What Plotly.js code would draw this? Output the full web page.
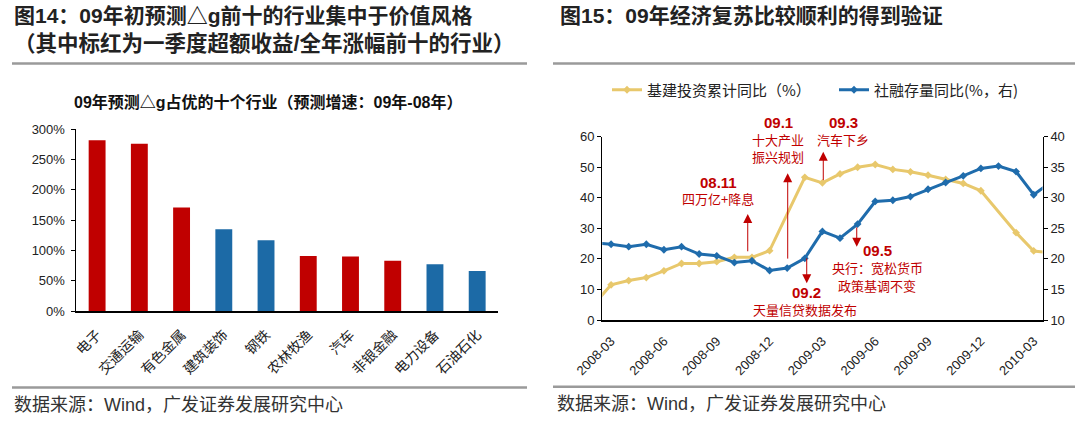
<!DOCTYPE html>
<html><head><meta charset="utf-8">
<script src="https://cdn.plot.ly/plotly-3.0.1.min.js"></script>
<style>html,body{margin:0;padding:0;background:#fff;} #chart{width:1080px;height:422px;}</style>
</head><body><div id="chart"></div>
<script>
// ---------- Data: Fig.14 ----------
const industries = ['电子','交通运输','有色金属','建筑装饰','钢铁','农林牧渔','汽车','非银金融','电力设备','石油石化'];
const predictedGrowth = [282, 276, 171, 135, 117, 91, 90, 83, 77, 66]; // %, 09 vs 08
const redFlag = [true, true, true, false, false, true, true, true, false, false]; // Q1 excess return / full-year top 10
const leftTickVals = [0, 50, 100, 150, 200, 250, 300];
const leftTickText = ['0%', '50%', '100%', '150%', '200%', '250%', '300%'];

// ---------- Data: Fig.15 ----------
const months = ['2008-02','2008-03','2008-04','2008-05','2008-06','2008-07','2008-08','2008-09','2008-10','2008-11','2008-12',
                '2009-01','2009-02','2009-03','2009-04','2009-05','2009-06','2009-07','2009-08','2009-09','2009-10','2009-11','2009-12',
                '2010-01','2010-02','2010-03','2010-04'];
const infraYoY = [5.0, 11.5, 12.9, 13.9, 16.1, 18.5, 18.5, 19.1, 20.5, 20.5, 22.7,
                  null, 46.7, 44.9, 47.8, 50.0, 50.9, 49.3, 48.5, 47.4, 46.0, 44.7, 42.3,
                  null, 28.6, 22.6, 22.0];
const tsfYoY = [22.6, 22.4, 22.0, 22.4, 21.5, 22.0, 20.8, 20.5, 19.4, 19.7, 18.1,
                18.5, 20.1, 24.5, 23.4, 25.7, 29.4, 29.6, 30.2, 31.4, 32.5, 33.6, 34.8,
                35.2, 34.3, 30.5, 32.6];
const xTickMonths = ['2008-03','2008-06','2008-09','2008-12','2009-03','2009-06','2009-09','2009-12','2010-03'];

// ---------- helpers ----------
const W = 1080, H = 422;
const px = x => x / W;
const py = y => 1 - y / H;
const RED = '#C00000', BLUE = '#1C6AA6', YEL = '#E8C86C', LBLUE = '#1F6CAC';
const SANS = 'Liberation Sans, Arial, Noto Sans CJK SC, sans-serif';
const CJK = 'Noto Sans CJK SC, Liberation Sans, sans-serif';
const TXT = '#222222';

const traces = [
  {
    type: 'bar', x: industries, y: predictedGrowth, xaxis: 'x', yaxis: 'y',
    marker: { color: redFlag.map(f => f ? RED : BLUE) },
    showlegend: false, hoverinfo: 'x+y'
  },
  {
    type: 'scatter', mode: 'lines+markers', x: months, y: infraYoY, xaxis: 'x2', yaxis: 'y2',
    name: '基建投资累计同比（%）', connectgaps: true, legend: 'legend',
    line: { color: YEL, width: 3 }, marker: { symbol: 'diamond', size: 6, color: YEL }
  },
  {
    type: 'scatter', mode: 'lines+markers', x: months, y: tsfYoY, xaxis: 'x2', yaxis: 'y3',
    name: '社融存量同比(%，右)', legend: 'legend2',
    line: { color: LBLUE, width: 3 }, marker: { symbol: 'diamond', size: 6, color: LBLUE }
  }
];

const ann = [];
function txt(text, x, y, size, opts) {
  ann.push(Object.assign({
    text: text, xref: 'paper', yref: 'paper', x: px(x), y: py(y),
    xanchor: 'center', yanchor: 'middle', showarrow: false,
    font: { family: CJK, size: size, color: TXT }
  }, opts || {}));
}
// titles
txt('<b>图14：09年初预测△g前十的行业集中于价值风格</b>', 12, 16, 21, { xanchor: 'left', font: { family: SANS, size: 21, color: TXT } });
txt('<b>（其中标红为一季度超额收益/全年涨幅前十的行业）</b>', 12, 44, 21, { xanchor: 'left', font: { family: SANS, size: 21.5, color: TXT } });
txt('<b>图15：09年经济复苏比较顺利的得到验证</b>', 558, 16, 21, { xanchor: 'left', font: { family: SANS, size: 21, color: TXT } });
txt('<b>09年预测△g占优的十个行业（预测增速：09年-08年）</b>', 268, 102, 16, { font: { family: SANS, size: 16, color: '#111' } });
txt('数据来源：Wind，广发证券发展研究中心', 12, 405, 18, { xanchor: 'left', font: { family: SANS, size: 18, color: '#333' } });
txt('数据来源：Wind，广发证券发展研究中心', 555, 404, 18, { xanchor: 'left', font: { family: SANS, size: 18, color: '#333' } });

// event labels
const B = { family: SANS, size: 15, color: RED };
const C = { family: CJK, size: 13, color: RED };
txt('<b>08.11</b>', 718, 182, 15, { font: B });
txt('四万亿+降息', 718, 199, 13, { font: C });
txt('<b>09.1</b>', 778, 122, 15, { font: B });
txt('十大产业', 778, 139, 13, { font: C });
txt('振兴规划', 778, 156, 13, { font: C });
txt('<b>09.3</b>', 843, 122, 15, { font: B });
txt('汽车下乡', 843, 139, 13, { font: C });
txt('<b>09.2</b>', 806, 292, 15, { font: B });
txt('天量信贷数据发布', 805, 309, 13, { font: C });
txt('<b>09.5</b>', 877, 250, 15, { font: B });
txt('央行：宽松货币', 877, 267, 13, { font: C });
txt('政策基调不变', 877, 285, 13, { font: C });

// arrows (data coordinates of right chart)
function arrow(xi, yTail, yHead) {
  ann.push({
    text: '', xref: 'x2', yref: 'y2', axref: 'x2', ayref: 'y2',
    x: xi, y: yHead, ax: xi, ay: yTail, showarrow: true,
    arrowhead: 2, arrowsize: 1.8, arrowwidth: 1, arrowcolor: RED,
    standoff: 0, startstandoff: 0
  });
}
arrow(8.76, 22.0, 34.7);   // 08.11
arrow(11.03, 19.6, 48.0);  // 09.1
arrow(13.05, 45.3, 55.1);  // 09.3
arrow(12.11, 20.7, 12.0);  // 09.2
arrow(14.95, 30.8, 24.0);  // 09.5

const grey = '#9A9A9A';
const shapes = [
  { type: 'line', xref: 'paper', yref: 'paper', x0: px(12), x1: px(527), y0: py(63.5), y1: py(63.5), line: { color: grey, width: 2.5 } },
  { type: 'line', xref: 'paper', yref: 'paper', x0: px(12), x1: px(527), y0: py(387.5), y1: py(387.5), line: { color: grey, width: 2.5 } },
  { type: 'line', xref: 'paper', yref: 'paper', x0: px(553), x1: px(1075), y0: py(63.5), y1: py(63.5), line: { color: grey, width: 2.5 } },
  { type: 'line', xref: 'paper', yref: 'paper', x0: px(553), x1: px(1075), y0: py(386.7), y1: py(386.7), line: { color: grey, width: 2.5 } }
];

const layout = {
  width: W, height: H, margin: { l: 0, r: 0, t: 0, b: 0 },
  paper_bgcolor: '#fff', plot_bgcolor: 'rgba(0,0,0,0)',
  showlegend: true, bargap: 0.6,
  xaxis: {
    domain: [px(76), px(498.3)], anchor: 'y', type: 'category',
    showline: true, linecolor: '#000', linewidth: 2, ticks: '', showgrid: false, zeroline: false,
    tickangle: -45, ticklabelstandoff: 8, tickfont: { family: CJK, size: 14, color: TXT }
  },
  yaxis: {
    domain: [py(311), py(129.3)], anchor: 'x', range: [0, 300], tickvals: leftTickVals, ticktext: leftTickText,
    showline: true, linecolor: '#000', linewidth: 1.5, ticks: 'outside', ticklen: 4, tickcolor: '#000',
    ticklabelstandoff: 3,
    showgrid: false, zeroline: false, tickfont: { family: SANS, size: 13, color: TXT }
  },
  xaxis2: {
    domain: [px(602.3), px(1042.5)], anchor: 'y2', type: 'category', range: [0.5, 25.5],
    tickvals: xTickMonths, tickangle: -45, ticklabelstandoff: 7,
    showline: true, linecolor: '#000', linewidth: 1.5, ticks: '', showgrid: false, zeroline: false,
    tickfont: { family: SANS, size: 13, color: TXT }
  },
  yaxis2: {
    domain: [py(320), py(136.7)], anchor: 'x2', range: [0, 60], dtick: 10,
    showline: true, linecolor: '#000', linewidth: 1.3, ticks: 'outside', ticklen: 4, tickcolor: '#000',
    showgrid: false, zeroline: false, tickfont: { family: SANS, size: 13, color: TXT }
  },
  yaxis3: {
    overlaying: 'y2', side: 'right', anchor: 'x2', range: [10, 40], dtick: 5,
    showline: true, linecolor: '#000', linewidth: 1.3, ticks: 'outside', ticklen: 4, tickcolor: '#000',
    showgrid: false, zeroline: false, tickfont: { family: SANS, size: 13, color: TXT }
  },
  legend: {
    orientation: 'h', x: px(607), y: py(90), xanchor: 'left', yanchor: 'middle',
    font: { family: CJK, size: 15, color: TXT }, bgcolor: 'rgba(0,0,0,0)', itemwidth: 30
  },
  legend2: {
    orientation: 'h', x: px(834), y: py(90), xanchor: 'left', yanchor: 'middle',
    font: { family: CJK, size: 15, color: TXT }, bgcolor: 'rgba(0,0,0,0)', itemwidth: 30
  },
  annotations: ann,
  shapes: shapes
};

Plotly.newPlot('chart', traces, layout, { displayModeBar: false, staticPlot: true });
</script>
</body></html>
